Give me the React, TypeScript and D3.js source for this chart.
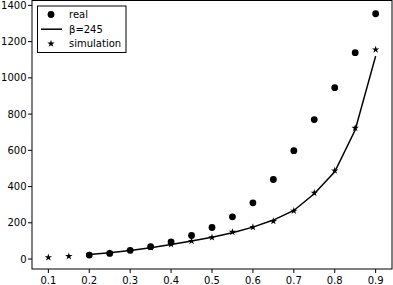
import React from "react";
import * as d3 from "d3";

const realX = [0.2, 0.25, 0.3, 0.35, 0.4, 0.45, 0.5, 0.55, 0.6, 0.65, 0.7, 0.75, 0.8, 0.85, 0.9];
const realY = [22, 31, 48, 68, 94, 130, 174, 233, 310, 439, 598, 770, 946, 1139, 1354];

const simX = [0.1, 0.15, 0.2, 0.25, 0.3, 0.35, 0.4, 0.45, 0.5, 0.55, 0.6, 0.65, 0.7, 0.75, 0.8, 0.85, 0.9];
const simY = [9, 15, 22, 33, 47, 65, 81, 99, 119, 149, 176, 209, 266, 365, 488, 723, 1156];

const fitX = [0.2, 0.25, 0.3, 0.35, 0.4, 0.45, 0.5, 0.55, 0.6, 0.65, 0.7, 0.75, 0.8, 0.85, 0.9];
const fitY = [25, 35, 47, 62, 80, 99, 120, 145, 176, 215, 268, 360, 482, 712, 1120];

const xTicks = [0.1, 0.2, 0.3, 0.4, 0.5, 0.6, 0.7, 0.8, 0.9];
const yTicks = [0, 200, 400, 600, 800, 1000, 1200, 1400];

const legendLabels = ["real", "β=245", "simulation"];

const W = 393, H = 285;
const left = 32, right = 392, top = 0.5, bottom = 269;

export default function App() {
  const x = d3.scaleLinear().domain([0.06, 0.94]).range([left, right]);
  const y = d3.scaleLinear().domain([-55, 1427]).range([bottom, top]);
  const line = d3.line<number>().x((_, i) => x(fitX[i])).y((d) => y(d));
  const star = d3.symbol().type(d3.symbolStar).size(17)()!;
  const font = "DejaVu Sans, sans-serif";
  return (
    <svg width={W} height={H} style={{ position: "absolute", left: 0, top: 0 }}>
      <rect x={0} y={0} width={W} height={H} fill="white" />
      <path d={line(fitY)!} fill="none" stroke="black" strokeWidth={1.5} />
      {realY.map((v, i) => (
        <circle key={"r" + i} cx={x(realX[i])} cy={y(v)} r={3.4} fill="black" />
      ))}
      {simY.map((v, i) => (
        <path key={"s" + i} d={star} transform={`translate(${x(simX[i])},${y(v)})`} fill="black" />
      ))}
      <rect x={left} y={top} width={right - left} height={bottom - top} fill="none" stroke="black" strokeWidth={1} />
      {xTicks.map((t) => (
        <g key={"x" + t} transform={`translate(${x(t)},${bottom})`}>
          <line y1={0} y2={4} stroke="black" />
          <text y={15} textAnchor="middle" fontSize={10} fontFamily={font}>{t.toFixed(1)}</text>
        </g>
      ))}
      {yTicks.map((t) => (
        <g key={"y" + t} transform={`translate(${left},${y(t)})`}>
          <line x1={0} x2={-4} stroke="black" />
          <text x={-5.5} dy="0.35em" textAnchor="end" fontSize={10} fontFamily={font}>{t}</text>
        </g>
      ))}
      <g>
        <rect x={37.5} y={6} width={88.5} height={46.5} fill="white" stroke="black" strokeWidth={1} />
        <circle cx={51} cy={14.5} r={3.4} fill="black" />
        <line x1={41} x2={62} y1={29.2} y2={29.2} stroke="black" strokeWidth={1.5} />
        <path d={star} transform="translate(51,43.7)" fill="black" />
        {legendLabels.map((l, i) => (
          <text key={l} x={69} y={14.5 + i * 14.6} dy="0.35em" fontSize={10} fontFamily={font}>{l}</text>
        ))}
      </g>
    </svg>
  );
}
